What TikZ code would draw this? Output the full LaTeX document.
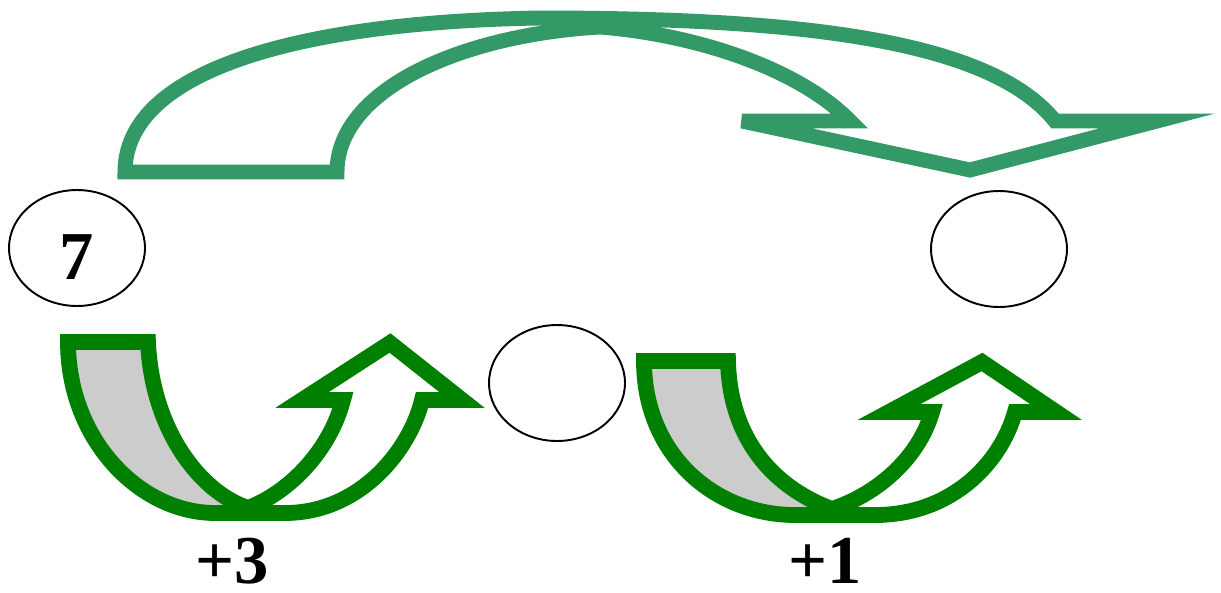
\documentclass[tikz,border=0pt]{standalone}
\usepackage{fontspec}
\setmainfont{Liberation Serif}
\usepackage{tikz}
\usetikzlibrary{shapes.geometric}
\definecolor{jumpgreen}{RGB}{51,153,102}
\definecolor{stepgreen}{RGB}{0,128,0}
\definecolor{backgray}{RGB}{204,204,204}

\begin{document}
\begin{tikzpicture}[x=0.02cm, y=-0.02cm,
    bubble/.style={ellipse, draw, line width=1.1pt, minimum width=2.72cm, minimum height=2.32cm, inner sep=0pt},
    numtext/.style={font=\bfseries\fontsize{39}{40}\selectfont, inner sep=0pt},
    jumparrow/.style={draw=jumpgreen, line width=8.5pt, miter limit=8.5},
    steparrow/.style={draw=stepgreen, line width=9pt}]
    \useasboundingbox (0,0) rectangle (1221,592);

    % Numbers on the line
    \node[bubble] (n7) at (77,248) {};
    \node[numtext] (seven) at (77,257) {7};
    \node[bubble] (nmid) at (557,383) {};
    \node[bubble] (nright) at (999,249) {};

    % Big jump over the top
    \draw[jumparrow] (125,172) .. controls (125,70) and (300,22) .. (540,18)
        .. controls (800,18) and (990,40) .. (1055,121)
        -- (1157,121) -- (970,170) -- (742,121) -- (850,121)
        .. controls (800,70) and (700,35) .. (600,27)
        .. controls (460,35) and (337,90) .. (337,172) -- cycle;

    % First step (+3)
    \fill[backgray] (68,342) -- (148,342) .. controls (152,430) and (200,492) .. (248,508)
        -- (215,513) .. controls (140,513) and (68,440) .. (68,342) -- cycle;
    \draw[steparrow] (68,342) -- (148,342) .. controls (152,430) and (200,492) .. (248,508)
        .. controls (290,492) and (330,450) .. (343,400)
        -- (302,400) -- (390,343) -- (462,400) -- (422,400)
        .. controls (410,450) and (360,513) .. (285,513) -- (215,513)
        .. controls (140,513) and (68,440) .. (68,342) -- cycle;
    \node[numtext] (plus3) at (232,561) {+3};

    % Second step (+1)
    \fill[backgray] (644,361) -- (728,361) .. controls (730,445) and (780,490) .. (832,509)
        -- (795,515) .. controls (715,515) and (644,455) .. (644,361) -- cycle;
    \draw[steparrow] (644,361) -- (728,361) .. controls (730,445) and (780,490) .. (832,509)
        .. controls (875,495) and (918,460) .. (932,412)
        -- (889,412) -- (982,362) -- (1056,412) -- (1015,412)
        .. controls (1000,465) and (950,515) .. (875,515) -- (795,515)
        .. controls (715,515) and (644,455) .. (644,361) -- cycle;
    \node[numtext] (plus1) at (825,561) {+1};
\end{tikzpicture}
\end{document}
